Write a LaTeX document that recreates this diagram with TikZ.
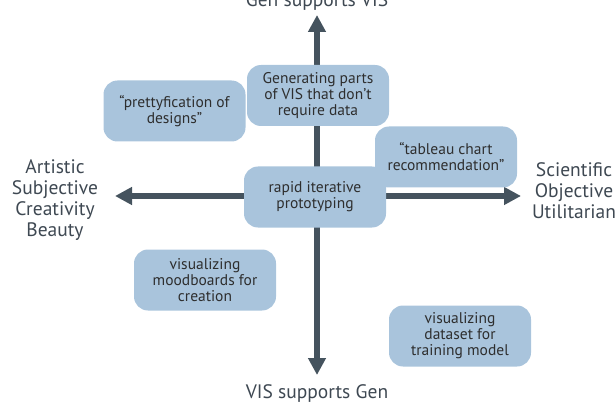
\documentclass[tikz,border=0pt]{standalone}
\usepackage{fontspec}
\setmainfont{PT Sans}
\usepackage{tikz}
\usetikzlibrary{arrows.meta,positioning}
\definecolor{boxblue}{HTML}{A9C4DC}
\definecolor{axisgray}{HTML}{45535E}
\definecolor{labelgray}{HTML}{3E4852}

\begin{document}
\begin{tikzpicture}[x=1pt,y=1pt]
\tikzset{
    idea/.style={rectangle, rounded corners=14pt, fill=boxblue,
                 minimum width=142pt, minimum height=61pt, align=center,
                 text=black!82, font=\fontsize{15.5}{16}\selectfont},
    pole/.style={align=center, text=labelgray,
                 font=\fontsize{19.5}{21}\selectfont},
    axis/.style={draw=axisgray, line width=6pt,
                 {Triangle[length=17pt,width=17pt]}-{Triangle[length=17pt,width=17pt]}}
}
\useasboundingbox (0,0) rectangle (616,405);

% axis ends
\coordinate (west) at (115,209);
\coordinate (east) at (521,209);
\coordinate (north) at (317,390);
\coordinate (south) at (317,30);

\draw [axis] (west) -- (east);
\draw [axis] (south) -- (north);

% poles
\node [pole, anchor=base] (genvis) at (317,398) {Gen supports VIS};
\node [pole, anchor=base] (visgen) at (317,7) {VIS supports Gen};
\node [pole] (artistic) at (55,205) {Artistic\\Subjective\\Creativity\\Beauty};
\node [pole] (scientific) at (574,214) {Scientific\\Objective\\Utilitarian};

% ideas
\node [idea] (pretty) at (174.5,294) {“prettyfication of\\designs”};
\node [idea] (parts) at (318,309.5) {Generating parts\\of VIS that don’t\\require data};
\node [idea] (tableau) at (446,248) {“tableau chart\\recommendation”};
\node [idea] (rapid) at (315,208) {rapid iterative\\prototyping};
\node [idea] (mood) at (205,125) {visualizing\\moodboards for\\creation};
\node [idea] (dataset) at (460,69) {visualizing\\dataset for\\training model};
\end{tikzpicture}
\end{document}
